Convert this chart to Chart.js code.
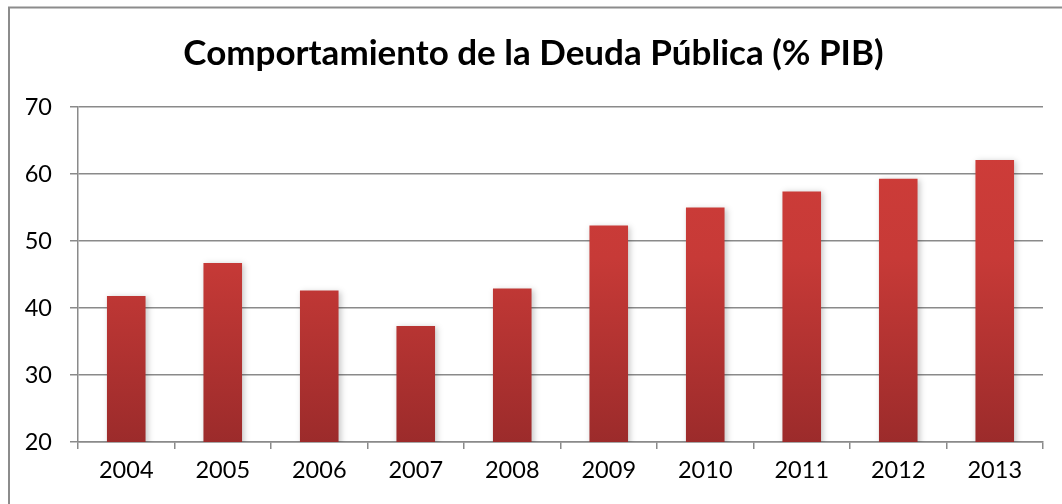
<!DOCTYPE html>
<html>
<head>
<meta charset="utf-8">
<script src="https://cdn.jsdelivr.net/npm/chart.js@4/dist/chart.umd.min.js"></script>
<style>
  html, body { margin: 0; padding: 0; background: #fff; }
  #wrap { width: 1062px; height: 504px; position: relative; }
</style>
</head>
<body>
<div id="wrap"><canvas id="debtChart"></canvas></div>
<script>
// Data
const years = ['2004', '2005', '2006', '2007', '2008', '2009', '2010', '2011', '2012', '2013'];
const debtPct = [41.8, 46.7, 42.6, 37.3, 42.9, 52.3, 55.0, 57.4, 59.3, 62.1];
const yTicks = [20, 30, 40, 50, 60, 70];

const gridColor = '#8a8a8a';
const labelFont = { family: 'Lato', size: 23.5 };

// Outer frame (left + top edges visible in the reference)
const framePlugin = {
    id: 'frame',
    beforeDraw(chart) {
        const ctx = chart.ctx;
        ctx.save();
        ctx.strokeStyle = '#8c8c8c';
        ctx.lineWidth = 2;
        ctx.beginPath();
        ctx.moveTo(9, 504);
        ctx.lineTo(9, 7.5);
        ctx.lineTo(1062, 7.5);
        ctx.stroke();
        ctx.restore();
    }
};

// Soft shadow behind bars
const shadowPlugin = {
    id: 'barShadow',
    beforeDatasetsDraw(chart) {
        const ctx = chart.ctx;
        ctx.save();
        ctx.shadowColor = 'rgba(0,0,0,0.22)';
        ctx.shadowBlur = 6;
        ctx.shadowOffsetX = 2;
        ctx.shadowOffsetY = 1;
    },
    afterDatasetsDraw(chart) {
        chart.ctx.restore();
    }
};

const ctx = document.getElementById('debtChart').getContext('2d');

new Chart(ctx, {
    type: 'bar',
    data: {
        labels: years,
        datasets: [{
            label: 'Deuda Pública (% PIB)',
            data: debtPct,
            backgroundColor: (context) => {
                const area = context.chart.chartArea;
                if (!area) return '#c83a36';
                const g = context.chart.ctx.createLinearGradient(0, area.top, 0, area.bottom);
                g.addColorStop(0, '#d03d39');
                g.addColorStop(0.45, '#c73a37');
                g.addColorStop(1, '#9c2b2b');
                return g;
            },
            borderWidth: 0,
            barPercentage: 0.4,
            categoryPercentage: 1.0
        }]
    },
    options: {
        responsive: true,
        maintainAspectRatio: false,
        animation: false,
        layout: {
            padding: { left: 24, right: 19, top: 0, bottom: 0 }
        },
        plugins: {
            legend: { display: false },
            tooltip: { enabled: false },
            title: {
                display: true,
                text: 'Comportamiento de la Deuda Pública (% PIB)',
                color: '#000',
                font: { family: 'Lato', size: 35, weight: 'bold', lineHeight: 1.2 },
                padding: { top: 33, bottom: 32 }
            }
        },
        scales: {
            x: {
                grid: {
                    display: true,
                    drawOnChartArea: false,
                    drawTicks: true,
                    tickLength: 7,
                    color: gridColor,
                    lineWidth: 1.5,
                    offset: true
                },
                border: { color: gridColor, width: 1.5 },
                ticks: {
                    color: '#000',
                    font: labelFont,
                    padding: 7,
                    maxRotation: 0
                },
                afterFit(scale) { scale.height = 62; }
            },
            y: {
                min: 20,
                max: 70,
                afterBuildTicks(scale) {
                    scale.ticks = yTicks.map(v => ({ value: v }));
                },
                grid: {
                    color: gridColor,
                    lineWidth: 1.5,
                    tickLength: 8
                },
                border: { color: gridColor, width: 1.5 },
                ticks: {
                    color: '#000',
                    font: labelFont,
                    padding: 18
                },
                afterFit(scale) { scale.width = 54; }
            }
        }
    },
    plugins: [framePlugin, shadowPlugin]
});
</script>
</body>
</html>
